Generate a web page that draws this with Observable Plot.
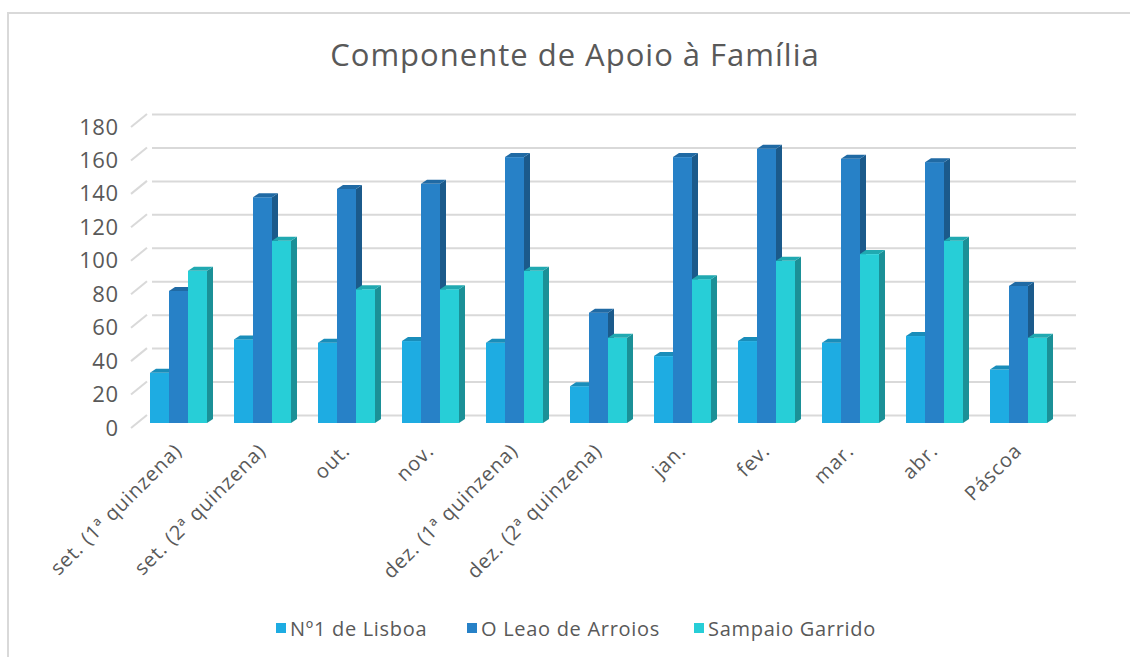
<!DOCTYPE html>
<html><head><meta charset="utf-8">
<script src="https://cdn.jsdelivr.net/npm/d3@7"></script>
<script src="https://cdn.jsdelivr.net/npm/@observablehq/plot@0.6"></script>
<style>
html,body{margin:0;padding:0;background:#fff;overflow:hidden;width:1130px;height:657px;font-family:"Open Sans",sans-serif;}
#wrap{position:absolute;left:7px;top:12px;width:1123px;height:645px;border-left:2px solid #d9d9d9;border-top:2px solid #d9d9d9;box-sizing:border-box;}
#title{height:81px;box-sizing:border-box;padding-top:22px;padding-left:11px;text-align:center;font-size:31px;letter-spacing:1px;color:#595959;line-height:36px;}
#chart svg{display:block;}
#legend{height:45px;position:relative;font-size:20px;letter-spacing:0.7px;color:#595959;}
.item{position:absolute;top:8px;display:flex;align-items:center;height:40px;}
.sw{width:10px;height:10px;margin-right:4px;}
g[aria-label="y-axis tick label"] text{font-size:22px;letter-spacing:0.5px;}
g[aria-label="fx-axis tick label"] text{font-size:20px;letter-spacing:0.9px;}
</style></head>
<body>
<div id="wrap">
  <div id="title">Componente de Apoio à Família</div>
  <div id="chart"></div>
  <div id="legend"></div>
</div>
<script>
const categories = ["set. (1ª quinzena)", "set. (2ª quinzena)", "out.", "nov.", "dez. (1ª quinzena)", "dez. (2ª quinzena)", "jan.", "fev.", "mar.", "abr.", "Páscoa"];
const series = ["Nº1 de Lisboa", "O Leao de Arroios", "Sampaio Garrido"];
const lisboa = [30, 50, 48, 49, 48, 22, 40, 49, 48, 52, 32];
const leao = [79, 135, 140, 143, 159, 66, 159, 164, 158, 156, 82];
const sampaio = [91, 109, 80, 80, 91, 51, 86, 97, 101, 109, 51];
const colors = ["#1EACE2", "#2781C7", "#27CED7"];
const yTicks = [0, 20, 40, 60, 80, 100, 120, 140, 160, 180];

const valuesBySeries = [lisboa, leao, sampaio];
const data = categories.flatMap((c, i) => series.map((s, j) => ({cat: c, series: s, value: valuesBySeries[j][i]})));

const plot = Plot.plot({
  width: 1121,
  height: 505,
  marginTop: 32,
  marginLeft: 122,
  marginRight: 65,
  marginBottom: 172,
  style: {fontFamily: "Open Sans", fontSize: "19px", color: "#595959", background: "transparent", overflow: "visible"},
  fx: {domain: categories, padding: 0, label: null, tickRotate: -45, tickSize: 0, tickPadding: 19, axis: "bottom"},
  x: {domain: series, axis: null, paddingInner: 0, paddingOuter: 0.7},
  y: {domain: [0, 180], ticks: yTicks, tickSize: 0, tickPadding: 18, label: null},
  color: {domain: series, range: colors},
  marks: [
    Plot.ruleY(yTicks, {stroke: "#d9d9d9", strokeWidth: 2, dx: 16, dy: -13}),
    Plot.barY(data, {fx: "cat", x: "series", y: "value", fill: "series", dx: 0, dy: -5})
  ]
});
document.getElementById("chart").appendChild(plot);

// 3D faces derived from the rendered bars
const svgNS = "http://www.w3.org/2000/svg";
const DX = 6, DY = -4;
plot.querySelectorAll('g[aria-label="bar"] rect').forEach(r => {
  const x = +r.getAttribute("x"), y = +r.getAttribute("y"), w = +r.getAttribute("width"), h = +r.getAttribute("height");
  const fill = r.getAttribute("fill");
  const side = document.createElementNS(svgNS, "polygon");
  side.setAttribute("points", `${x+w},${y} ${x+w+DX},${y+DY} ${x+w+DX},${y+h+DY} ${x+w},${y+h}`);
  side.setAttribute("fill", d3.color(fill).darker(1.0).formatHex());
  const top = document.createElementNS(svgNS, "polygon");
  top.setAttribute("points", `${x},${y} ${x+DX},${y+DY} ${x+w+DX},${y+DY} ${x+w},${y}`);
  top.setAttribute("fill", d3.color(fill).darker(0.55).formatHex());
  r.after(side, top);
});

// left side-wall lines
const ys = plot.scale("y");
const g = d3.select(plot).insert("g", ":first-child").attr("stroke", "#d9d9d9").attr("stroke-width", 2);
yTicks.forEach(v => {
  const yy = ys.apply(v);
  g.append("line").attr("x1", 122).attr("y1", yy).attr("x2", 122 + 16).attr("y2", yy - 13);
});

// legend
const leg = document.getElementById("legend");
const lefts = [267, 458, 685];
series.forEach((s, i) => {
  const it = document.createElement("div");
  it.className = "item";
  it.style.left = lefts[i] + "px";
  it.innerHTML = `<div class="sw" style="background:${colors[i]}"></div><span>${s}</span>`;
  leg.appendChild(it);
});
</script>
</body></html>
